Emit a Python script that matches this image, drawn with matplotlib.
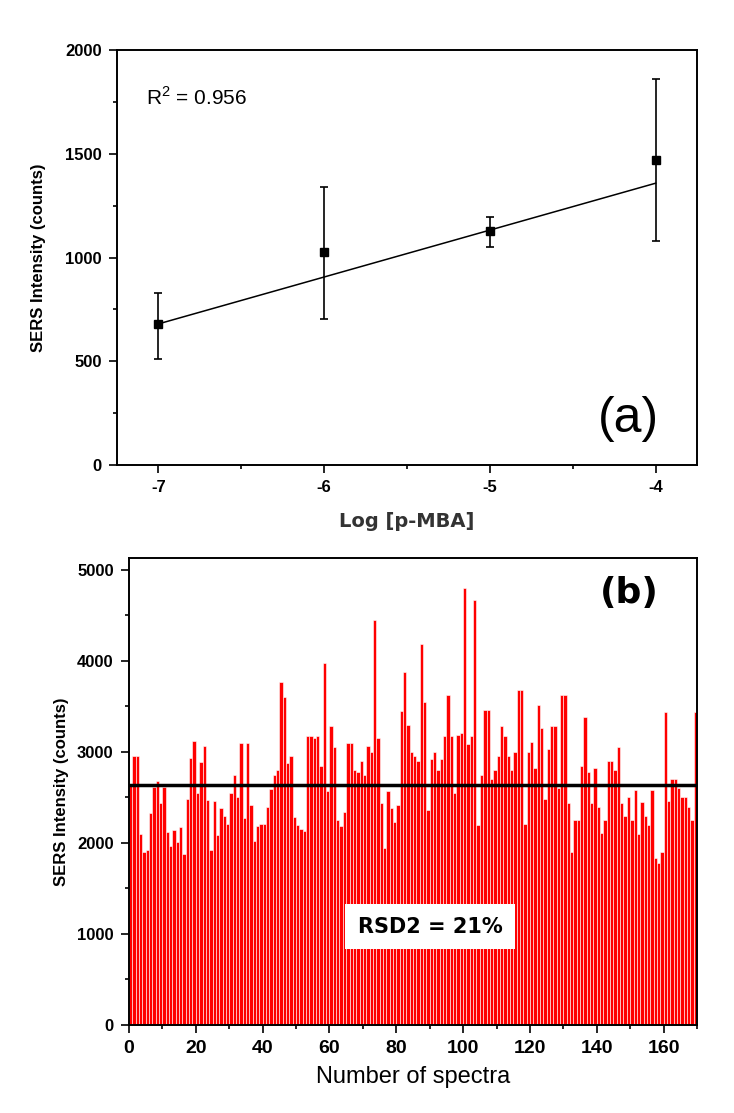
import matplotlib
matplotlib.use('Agg')
import matplotlib.pyplot as plt
import numpy as np
from matplotlib.ticker import MultipleLocator

# panel (a): calibration
log_conc = [-7, -6, -5, -4]
intensity = [678, 1026, 1127, 1468]
err_low = [512, 705, 1051, 1080]
err_high = [830, 1340, 1196, 1862]
fit_x = [-7, -4]
fit_y = [680, 1358]

# panel (b): reproducibility, 170 spectra
spectra = [
    2630, 2950, 2950, 2100, 1900, 1920, 2330, 2610, 2680, 2440,
    2610, 2120, 1970, 2140, 2010, 2180, 1880, 2480, 2930, 3120,
    2550, 2890, 3060, 2470, 1920, 2460, 2090, 2380, 2300, 2210,
    2550, 2750, 2500, 3100, 2270, 3100, 2420, 2020, 2190, 2210,
    2210, 2400, 2590, 2750, 2800, 3770, 3600, 2880, 2950, 2290,
    2200, 2150, 2130, 3180, 3180, 3150, 3180, 2840, 3980, 2570,
    3280, 3050, 2250, 2190, 2340, 3100, 3100, 2800, 2780, 2900,
    2750, 3070, 3000, 4450, 3150, 2440, 1940, 2570, 2380, 2230,
    2420, 3450, 3880, 3300, 3000, 2950, 2900, 4190, 3550, 2360,
    2920, 3000, 2800, 2920, 3170, 3630, 3170, 2550, 3190, 3210,
    4800, 3090, 3170, 4670, 2200, 2750, 3460, 3460, 2700, 2800,
    2960, 3280, 3170, 2960, 2800, 3000, 3680, 3680, 2210, 3000,
    3110, 2820, 3520, 3260, 2480, 3030, 3280, 3280, 2600, 3620,
    3620, 2440, 1900, 2250, 2250, 2840, 3380, 2780, 2440, 2820,
    2400, 2110, 2250, 2900, 2900, 2800, 3050, 2440, 2300, 2500,
    2250, 2580, 2100, 2450, 2300, 2200, 2580, 1830, 1780, 1900,
    3440, 2460, 2700, 2700, 2600, 2500, 2500, 2400, 2250, 3440,
]
mean_level = 2640

plt.rcParams['axes.unicode_minus'] = False
arial = ['Liberation Sans', 'DejaVu Sans']

W, H = 734, 1113
fig = plt.figure(figsize=(W / 100, H / 100), dpi=100)

def box(l, t, r, b):
    return [l / W, 1 - b / H, (r - l) / W, (b - t) / H]

def style(ax, size):
    for s in ax.spines.values():
        s.set_linewidth(1.4)
    ax.tick_params(which='both', direction='out', top=False, right=False, width=1.2, pad=5)
    ax.tick_params(which='major', length=6)
    ax.tick_params(which='minor', length=3)
    for lab in ax.get_xticklabels() + ax.get_yticklabels():
        lab.set_family(arial)
        lab.set_fontweight('bold')
        lab.set_fontsize(size)

# ---- (a)
ax1 = fig.add_axes(box(117, 50, 697, 465))
yerr = [np.array(intensity) - np.array(err_low), np.array(err_high) - np.array(intensity)]
ax1.errorbar(log_conc, intensity, yerr=yerr, fmt='s', color='black', ms=6,
             ecolor='black', elinewidth=1.2, capsize=3, capthick=1.2)
ax1.plot(fit_x, fit_y, color='black', lw=1.1)
ax1.set_xlim(-7.25, -3.75)
ax1.set_ylim(0, 2000)
ax1.set_xticks([-7, -6, -5, -4])
ax1.xaxis.set_minor_locator(MultipleLocator(0.5))
ax1.set_yticks([0, 500, 1000, 1500, 2000])
ax1.yaxis.set_minor_locator(MultipleLocator(250))
style(ax1, 12)
ax1.set_xlabel('Log [p-MBA]', family='DejaVu Sans', fontweight='bold', fontsize=14,
               color='#333333', labelpad=12)
ax1.set_ylabel('SERS Intensity (counts)', family=arial, fontweight='bold', fontsize=12, labelpad=14)
ax1.text(0.05, 0.885, r'R$^{\mathregular{2}}$ = 0.956', transform=ax1.transAxes,
         family=arial, fontsize=15, va='center')
ax1.text(0.935, 0.11, '(a)', transform=ax1.transAxes, family=arial, fontsize=36,
         ha='right', va='center')

# ---- (b)
ax2 = fig.add_axes(box(129, 558, 697, 1025))
n = np.arange(1, len(spectra) + 1)
ax2.bar(n - 0.5, spectra, width=1.0, color='#ff0000', edgecolor='white', linewidth=0.4)
ax2.axhline(mean_level, color='black', lw=2.5)
ax2.set_xlim(0, 170)
ax2.set_ylim(0, 5130)
ax2.set_xticks(np.arange(0, 161, 20))
ax2.xaxis.set_minor_locator(MultipleLocator(10))
ax2.set_yticks(np.arange(0, 5001, 1000))
ax2.yaxis.set_minor_locator(MultipleLocator(500))
style(ax2, 12)
for lab in ax2.get_xticklabels():
    lab.set_fontsize(14)
ax2.set_xlabel('Number of spectra', family=arial, fontsize=17, labelpad=6)
ax2.set_ylabel('SERS Intensity (counts)', family=arial, fontweight='bold', fontsize=12, labelpad=6)
ax2.text(0.88, 0.925, '(b)', transform=ax2.transAxes, family='DejaVu Sans', fontweight='bold',
         fontsize=26, ha='center', va='center')
ax2.text(0.53, 0.21, 'RSD2 = 21%', transform=ax2.transAxes, family='DejaVu Sans',
         fontweight='bold', fontsize=15, ha='center', va='center',
         bbox=dict(facecolor='white', edgecolor='none', pad=9))

fig.savefig('out.png', dpi=100)
